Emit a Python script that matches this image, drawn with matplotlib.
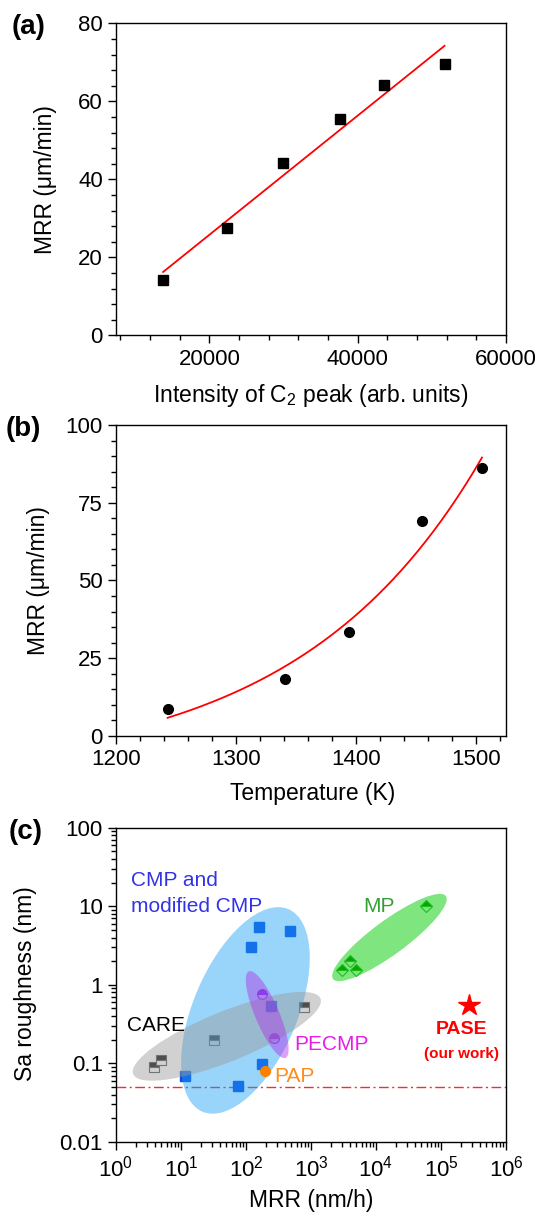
import numpy as np
import matplotlib
matplotlib.use("Agg")
from matplotlib import pyplot as plt
from matplotlib import ticker
from matplotlib.patches import Ellipse
from matplotlib.transforms import ScaledTranslation

plt.rcParams['font.family'] = ['Liberation Sans', 'DejaVu Sans']
plt.rcParams['mathtext.default'] = 'regular'

# (a) MRR vs intensity of the C2 emission peak
c2_intensity = [13750, 22360, 29950, 37590, 43520, 51710]
mrr_a = [14.3, 27.5, 44.1, 55.6, 64.3, 69.5]

# (b) MRR vs temperature
temperature = [1243, 1341, 1394.5, 1455, 1505]
mrr_b = [8.6, 18.2, 33.4, 69.3, 86.4]

# (c) Sa roughness vs MRR for the different polishing methods
cmp_mrr = [159, 480, 120, 243, 175, 11.7, 75.5]
cmp_sa = [5.47, 4.81, 3.03, 0.544, 0.099, 0.069, 0.052]
care_mrr = [3.8, 4.95, 32, 790]
care_sa = [0.091, 0.109, 0.196, 0.52]
pecmp_mrr = [177, 272]
pecmp_sa = [0.76, 0.21]
pap_mrr = [198]
pap_sa = [0.08]
mp_mrr = [59000, 3980, 2980, 4850]
mp_sa = [10.1, 2.03, 1.55, 1.55]
pase_mrr = [268000]
pase_sa = [0.555]
sa_limit = 0.05

TICK_FS = 16
LABEL_FS = 16.5


def exp_grow_fit(x, y):
    # y = y0 + A*exp(B*(x - x0)), least squares, B by grid search
    x = np.asarray(x, float)
    y = np.asarray(y, float)
    best = None
    for b in np.linspace(0.001, 0.05, 4901):
        e = np.exp(b * (x - x[0]))
        M = np.column_stack([np.ones_like(x), e])
        coef = np.linalg.lstsq(M, y, rcond=None)[0]
        sse = np.sum((M @ coef - y) ** 2)
        if best is None or sse < best[0]:
            best = (sse, b, coef)
    _, b, (y0, a) = best
    return lambda t: y0 + a * np.exp(b * (np.asarray(t) - x[0]))


def style_axes(ax):
    for s in ax.spines.values():
        s.set_linewidth(1.0)
    ax.tick_params(which='both', direction='out', top=False, right=False,
                   width=1.0, labelsize=TICK_FS, pad=3.5)
    ax.tick_params(which='major', length=6)
    ax.tick_params(which='minor', length=3.5)


fig = plt.figure(figsize=(5.37, 12.12), dpi=100)
L, W = 116 / 537, 390 / 537

# ---------- (a)
ax1 = fig.add_axes([L, 0.7233, W, 0.2574])
ax1.plot(c2_intensity, mrr_a, 's', color='black', ms=6.5, zorder=3)
k, c = np.polyfit(c2_intensity, mrr_a, 1)
xs = np.linspace(min(c2_intensity), max(c2_intensity), 50)
ax1.plot(xs, k * xs + c, color='red', lw=1.3, zorder=2)
ax1.set_xlim(7400, 60000)
ax1.set_ylim(0, 80)
ax1.xaxis.set_major_locator(ticker.FixedLocator([20000, 40000, 60000]))
ax1.xaxis.set_minor_locator(ticker.MultipleLocator(4000))
ax1.yaxis.set_major_locator(ticker.MultipleLocator(20))
ax1.yaxis.set_minor_locator(ticker.MultipleLocator(4))
style_axes(ax1)
ax1.set_xlabel('Intensity of C$_2$ peak (arb. units)', fontsize=LABEL_FS)
ax1.set_ylabel('MRR (μm/min)', fontsize=LABEL_FS)
ax1.xaxis.set_label_coords(0.5, -0.150)
ax1.yaxis.set_label_coords(-0.182, 0.5)
ax1.yaxis.label.set_va('center')

# ---------- (b)
ax2 = fig.add_axes([L, 0.3930, W, 0.2561])
ax2.plot(temperature, mrr_b, 'o', color='black', ms=7, zorder=3)
fit = exp_grow_fit(temperature, mrr_b)
ts = np.linspace(min(temperature), max(temperature), 200)
ax2.plot(ts, fit(ts), color='red', lw=1.3, zorder=2)
ax2.set_xlim(1200, 1525)
ax2.set_ylim(0, 100)
ax2.xaxis.set_major_locator(ticker.MultipleLocator(100))
ax2.xaxis.set_minor_locator(ticker.MultipleLocator(20))
ax2.yaxis.set_major_locator(ticker.MultipleLocator(25))
ax2.yaxis.set_minor_locator(ticker.MultipleLocator(5))
style_axes(ax2)
ax2.set_xlabel('Temperature (K)', fontsize=LABEL_FS)
ax2.set_ylabel('MRR (μm/min)', fontsize=LABEL_FS)
ax2.xaxis.set_label_coords(0.505, -0.150)
ax2.yaxis.set_label_coords(-0.199, 0.5)
ax2.yaxis.label.set_va('center')

# ---------- (c)
ax3 = fig.add_axes([L, 0.0578, W, 0.2593])
ax3.set_xscale('log')
ax3.set_yscale('log')
ax3.set_xlim(1, 1e6)
ax3.set_ylim(0.01, 100)

ax3.axhline(sa_limit, color='#f03030', lw=1.0, ls=(0, (7, 2.5, 1.5, 2.5)), zorder=1)

ax3.plot(cmp_mrr, cmp_sa, 's', ms=6.5, color='#0a4ee0', zorder=2)
ax3.plot(care_mrr, care_sa, 's', ms=6.5, fillstyle='top', mfc='#111111',
         markerfacecoloralt='white', mec='#555555', mew=0.8, zorder=2)
ax3.plot(pecmp_mrr, pecmp_sa, 'o', ms=7, fillstyle='top', mfc='#b000d8',
         markerfacecoloralt='white', mec='#b000d8', mew=0.8, zorder=2)
ax3.plot(pap_mrr, pap_sa, 'o', ms=7, color='#ff8000', zorder=4)
ax3.plot(mp_mrr, mp_sa, 'D', ms=6.5, fillstyle='top', mfc='#008800',
         markerfacecoloralt='white', mec='#44aa44', mew=0.8, zorder=2)
ax3.plot(pase_mrr, pase_sa, '*', ms=16, color='red', zorder=4)


def blob(ax, cx, cy, w, h, angle, color, alpha):
    # ellipse sized in inches, centred on a data point
    tr = fig.dpi_scale_trans + ScaledTranslation(cx, cy, ax.transData)
    e = Ellipse((0, 0), w, h, angle=angle, transform=tr, facecolor=color,
                edgecolor='none', alpha=alpha, zorder=3)
    ax.add_artist(e)


blob(ax3, 98, 0.472, 2.20, 1.04, 67, '#1ea0f5', 0.45)
blob(ax3, 50.7, 0.221, 2.02, 0.50, 22, '#999999', 0.45)
blob(ax3, 212, 0.418, 0.94, 0.24, -67, '#b030e8', 0.45)
blob(ax3, 16100, 4.0, 1.40, 0.34, 36.3, '#00cc00', 0.5)

ax3.text(1.68, 18.1, 'CMP and', color='#3333e6', fontsize=15, zorder=5)
ax3.text(1.68, 8.5, 'modified CMP', color='#3333e6', fontsize=15, zorder=5)
ax3.text(1.5, 0.255, 'CARE', color='black', fontsize=15, zorder=5)
ax3.text(6300, 8.4, 'MP', color='#33a033', fontsize=15, zorder=5)
ax3.text(550, 0.15, 'PECMP', color='#e61ee6', fontsize=15, zorder=5)
ax3.text(270, 0.058, 'PAP', color='#ff8c1a', fontsize=15, zorder=5)
ax3.text(205000, 0.24, 'PASE', color='red', fontsize=14, fontweight='bold',
         ha='center', zorder=5)
ax3.text(205000, 0.1186, '(our work)', color='red', fontsize=11, fontweight='bold',
         ha='center', zorder=5)

ax3.xaxis.set_major_locator(ticker.LogLocator(base=10, numticks=10))
ax3.xaxis.set_minor_locator(ticker.LogLocator(base=10, subs=np.arange(2, 10), numticks=20))
ax3.xaxis.set_minor_formatter(ticker.NullFormatter())
ax3.yaxis.set_major_locator(ticker.LogLocator(base=10, numticks=10))
ax3.yaxis.set_minor_locator(ticker.LogLocator(base=10, subs=np.arange(2, 10), numticks=20))
ax3.yaxis.set_major_formatter(ticker.FuncFormatter(lambda v, p: f'{v:g}'))
ax3.yaxis.set_minor_formatter(ticker.NullFormatter())
style_axes(ax3)
ax3.set_xlabel('MRR (nm/h)', fontsize=LABEL_FS)
ax3.set_ylabel('Sa roughness (nm)', fontsize=LABEL_FS)
ax3.xaxis.set_label_coords(0.5, -0.150)
ax3.yaxis.set_label_coords(-0.231, 0.503)
ax3.yaxis.label.set_va('center')

# panel letters
fig.text(12 / 537, 1 - 14 / 1212, '(a)', fontsize=20, fontweight='bold', va='top')
fig.text(6 / 537, 1 - 416 / 1212, '(b)', fontsize=20, fontweight='bold', va='top')
fig.text(9 / 537, 1 - 819 / 1212, '(c)', fontsize=20, fontweight='bold', va='top')

fig.savefig('out.png', dpi=100)
